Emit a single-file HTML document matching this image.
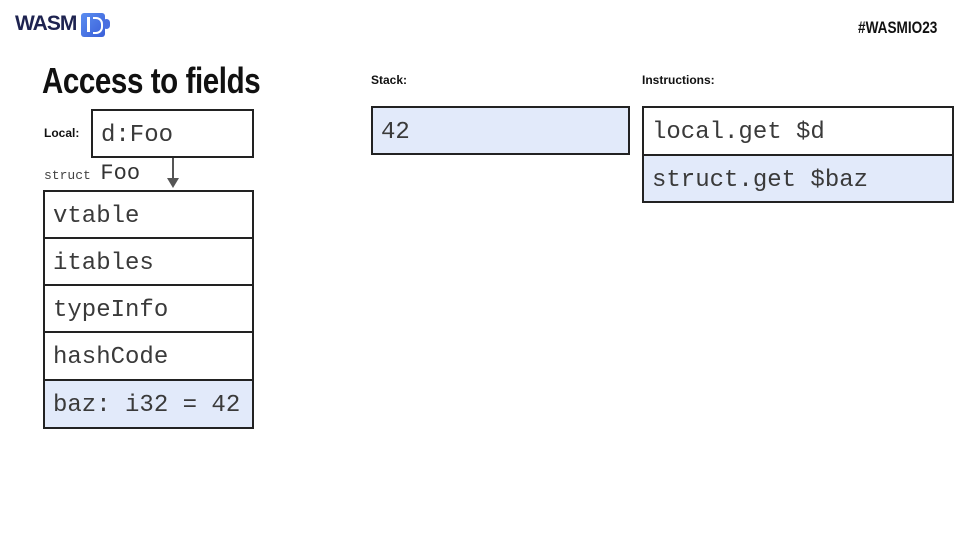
<!DOCTYPE html>
<html><head><meta charset="utf-8"><style>
body{margin:0;width:960px;height:540px;background:#fff;position:relative;overflow:hidden;font-family:"Liberation Sans",sans-serif}
.a{position:absolute}
.box{position:absolute;box-sizing:border-box;border:2px solid #222;font-family:"Liberation Mono",monospace;font-size:24px;color:#3a3a3a;padding-left:8px;padding-top:3px;display:flex;align-items:center}
.bl{background:#e2eafa}
.lbl{position:absolute;font-weight:bold;font-size:12px;color:#111}
</style></head><body>
<div class="a" style="left:15px;top:12px;font-weight:bold;font-size:21px;color:#1e2350;letter-spacing:-1px">WASM</div>
<div class="a" style="left:81px;top:13px;width:24px;height:24px;background:linear-gradient(135deg,#5b8df0,#3a5fd8);border-radius:3px"></div>
<div class="a" style="left:103px;top:19px;width:7px;height:10px;background:#4a6fe0;border-radius:4px"></div>
<div class="a" style="left:87px;top:17px;width:3px;height:15px;background:#fff"></div>
<div class="a" style="left:93px;top:17px;width:8px;height:13px;border:2px solid #fff;border-left:none;border-radius:0 7px 7px 0"></div>
<div class="a" style="left:858px;top:18px;font-weight:bold;font-size:17px;color:#111;transform:scaleX(.8);transform-origin:left">#WASMIO23</div>
<div class="a" style="left:42px;top:60px;font-weight:bold;font-size:36px;color:#111;transform:scaleX(.82);transform-origin:left;letter-spacing:-0.5px">Access to fields</div>
<div class="lbl" style="left:44px;top:126px">Local:</div>
<div class="box" style="left:91px;top:109px;width:163px;height:49px">d:Foo</div>
<div class="a" style="left:44px;top:161px;font-family:'Liberation Mono',monospace;color:#444"><span style="font-size:13px">struct</span> <span style="font-size:22px;color:#333">Foo</span></div>
<div class="a" style="left:172px;top:158px;width:2px;height:22px;background:#555"></div>
<div class="a" style="left:167px;top:178px;width:0;height:0;border-left:6px solid transparent;border-right:6px solid transparent;border-top:10px solid #555"></div>
<div class="box" style="left:43px;top:190px;width:211px;height:49px">vtable</div>
<div class="box" style="left:43px;top:237px;width:211px;height:49px">itables</div>
<div class="box" style="left:43px;top:284px;width:211px;height:49px">typeInfo</div>
<div class="box" style="left:43px;top:331px;width:211px;height:50px">hashCode</div>
<div class="box bl" style="left:43px;top:379px;width:211px;height:50px">baz: i32 = 42</div>
<div class="lbl" style="left:371px;top:73px">Stack:</div>
<div class="box bl" style="left:371px;top:106px;width:259px;height:49px">42</div>
<div class="lbl" style="left:642px;top:73px">Instructions:</div>
<div class="box" style="left:642px;top:106px;width:312px;height:50px">local.get $d</div>
<div class="box bl" style="left:642px;top:154px;width:312px;height:49px">struct.get $baz</div>
</body></html>
